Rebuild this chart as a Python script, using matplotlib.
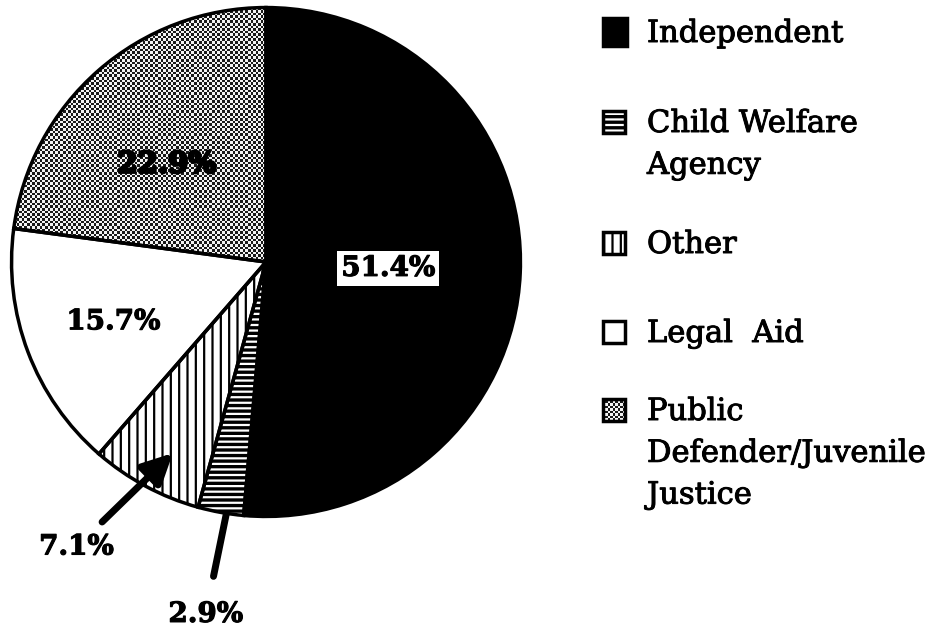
import matplotlib
matplotlib.use("Agg")
import matplotlib.pyplot as plt
import numpy as np
from matplotlib.patches import Rectangle
import matplotlib.patheffects as pe

# data
categories = ["Independent", "Child Welfare\nAgency", "Other", "Legal  Aid",
              "Public\nDefender/Juvenile\nJustice"]
shares = [51.4, 2.9, 7.1, 15.7, 22.9]
pct_labels = ["51.4%", "2.9%", "7.1%", "15.7%", "22.9%"]

faces = ["black", "black", "white", "white", "none"]
hatches = [None, "---", "||", None, None]
hatch_cols = ["black", "white", "black", "black", "black"]

plt.rcParams["font.family"] = "DejaVu Serif"
plt.rcParams["hatch.linewidth"] = 1.6

fig = plt.figure(figsize=(9.34, 6.34), dpi=100)
fig.patch.set_facecolor("white")

# pie centred at pixel (266, 262), radius ~257
ax = fig.add_axes([9 / 934, (634 - 519) / 634, 514 / 934, 514 / 634])
wedges, _ = ax.pie(shares, startangle=90, counterclock=False, radius=1,
                   colors=faces)
for w, h, hc in zip(wedges, hatches, hatch_cols):
    w.set_edgecolor(hc)
    w.set_linewidth(0)
    if h:
        w.set_hatch(h)

# dithered checker texture for the public defender slice
n = 200
ii, jj = np.indices((n, n))
checker = ((ii + jj) % 2).astype(float) * 0.85 + 0.1
im = ax.imshow(checker, cmap="gray", vmin=0, vmax=1, extent=(-1.01, 1.01, -1.01, 1.01),
               interpolation="nearest", zorder=1.5)
im.set_clip_path(wedges[4])

# outlines on top
outl, _ = ax.pie(shares, startangle=90, counterclock=False, radius=1,
                 colors=["none"] * len(shares),
                 wedgeprops=dict(edgecolor="black", linewidth=2.5, zorder=3))
ax.set_xlim(-1.01, 1.01)
ax.set_ylim(-1.01, 1.01)
ax.axis("off")

fs = 20
thick = [pe.withStroke(linewidth=0.8, foreground="black")]
ax.text(0.48, -0.025, pct_labels[0], ha="center", va="center", fontsize=fs,
        fontweight="bold", color="black", zorder=5, path_effects=thick,
        bbox=dict(boxstyle="square,pad=0.15", fc="white", ec="none"))
ax.text(-0.39, 0.385, pct_labels[4], ha="center", va="center", fontsize=fs + 1,
        fontweight="bold", color="black", zorder=5,
        path_effects=[pe.withStroke(linewidth=2, foreground="black")])
ax.text(-0.60, -0.235, pct_labels[3], ha="center", va="center", fontsize=fs,
        fontweight="bold", zorder=5, path_effects=thick)
ax.annotate(pct_labels[2], xy=(-0.366, -0.751), xytext=(-0.745, -1.12),
            ha="center", va="center", fontsize=fs, fontweight="bold",
            annotation_clip=False, zorder=5, path_effects=thick,
            arrowprops=dict(arrowstyle="-|>,head_length=0.9,head_width=0.45",
                            lw=5, color="black", shrinkA=9, shrinkB=0))
ax.annotate(pct_labels[1], xy=(-0.156, -0.99), xytext=(-0.237, -1.385),
            ha="center", va="center", fontsize=fs, fontweight="bold",
            annotation_clip=False, zorder=5, path_effects=thick,
            arrowprops=dict(arrowstyle="-", lw=5, color="black",
                            shrinkA=16, shrinkB=0))

# legend drawn by hand, square next to first line of each entry
leg_y = [32, 122, 243, 332, 410]
sq_h = [28, 22, 22, 22, 22]
sq_w = [24, 22, 22, 22, 22]
x0 = 603 / 934
for y, lab, fc, h, hc, hgt, wid in zip(leg_y, categories, faces, hatches,
                                       hatch_cols, sq_h, sq_w):
    y0 = (634 - y - hgt / 2) / 634
    if lab.startswith("Public"):
        ri = fig.add_axes([x0, y0, wid / 934, hgt / 634])
        ri.imshow(checker[:9, :9], cmap="gray", vmin=0, vmax=1,
                  interpolation="nearest", aspect="auto")
        ri.axis("off")
    else:
        fig.patches.append(Rectangle((x0, y0), wid / 934, hgt / 634,
                                     transform=fig.transFigure, facecolor=fc,
                                     edgecolor=hc, hatch=h, linewidth=0))
    fig.add_artist(Rectangle((x0, y0), wid / 934, hgt / 634,
                             transform=fig.transFigure, facecolor="none",
                             edgecolor="black", linewidth=2.5, zorder=5))
    fig.text(647 / 934, (634 - y + 14) / 634, lab, ha="left", va="top",
             fontsize=22, linespacing=1.45, color="black",
             path_effects=[pe.withStroke(linewidth=0.7, foreground="black")])

fig.savefig("out.png", dpi=100, facecolor="white")
